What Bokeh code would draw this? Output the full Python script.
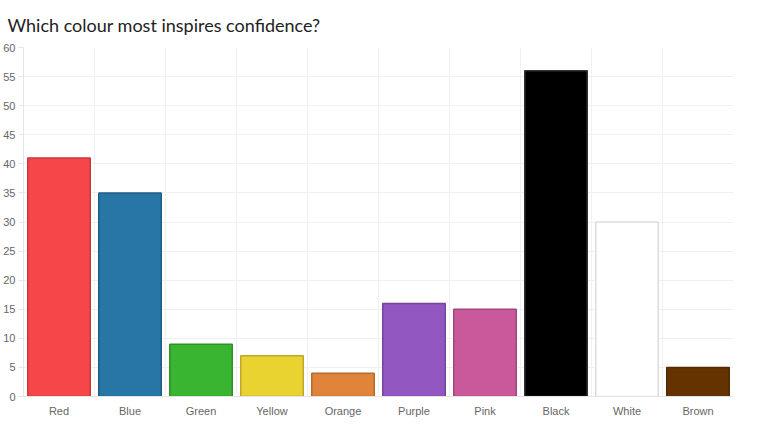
from bokeh.plotting import figure
from bokeh.models import ColumnDataSource, FixedTicker, Range1d
from bokeh.embed import file_html
from bokeh.resources import INLINE

categories = ["Red", "Blue", "Green", "Yellow", "Orange", "Purple", "Pink", "Black", "White", "Brown"]
values = [41, 35, 9, 7, 4, 16, 15, 56, 30, 5]
fills = ["#f7464a", "#2776a6", "#39b532", "#e8d330", "#e0843a", "#9257c0", "#c9599b", "#000000", "#ffffff", "#653300"]
borders = ["#c8393c", "#1f5f86", "#2e9128", "#bca927", "#b56a2e", "#75469a", "#a2477d", "#333333", "#dddddd", "#522900"]
y_ticks = [0, 5, 10, 15, 20, 25, 30, 35, 40, 45, 50, 55, 60]

xs = [i + 0.5 for i in range(len(categories))]
src = ColumnDataSource(dict(x=xs, top=values, fill=fills, line=borders, cat=categories))

p = figure(width=744, height=419, output_backend="svg", toolbar_location=None,
           x_range=Range1d(0, len(categories)), y_range=Range1d(0, 60),
           min_border_left=16, min_border_right=11, min_border_top=40, min_border_bottom=10)
p.title.text = "Which colour most inspires confidence?"
p.title.text_font = "Lato"
p.title.text_font_size = "18px"
p.title.text_font_style = "normal"
p.title.text_color = "#222222"
p.title.offset = -16
p.title.standoff = 23

p.vbar(x="x", top="top", width=0.88, bottom=0, source=src,
       fill_color="fill", line_color="line", line_width=1.5)

p.outline_line_color = None
p.background_fill_color = "white"
p.border_fill_color = "white"

p.yaxis.ticker = FixedTicker(ticks=y_ticks)
p.yaxis.major_label_text_font = "Liberation Sans"
p.yaxis.major_label_text_font_size = "11px"
p.yaxis.major_label_text_color = "#666666"
p.yaxis.axis_line_color = "#e5e5e5"
p.yaxis.major_tick_line_color = "#e5e5e5"
p.yaxis.major_tick_out = 5
p.yaxis.major_tick_in = 0
p.yaxis.minor_tick_line_color = None
p.yaxis.major_label_standoff = 3

p.xaxis.ticker = FixedTicker(ticks=xs)
p.xaxis.major_label_overrides = {x: c for x, c in zip(xs, categories)}
p.xaxis.major_label_text_font = "Liberation Sans"
p.xaxis.major_label_text_font_size = "11px"
p.xaxis.major_label_text_color = "#666666"
p.xaxis.axis_line_color = "#e5e5e5"
p.xaxis.major_tick_line_color = None
p.xaxis.minor_tick_line_color = None
p.xaxis.major_label_standoff = 2

p.xgrid.ticker = FixedTicker(ticks=list(range(len(categories) + 1)))
p.xgrid.grid_line_color = "#f0f0f0"
p.ygrid.grid_line_color = "#f0f0f0"

open("out.html", "w").write(file_html(p, INLINE))
